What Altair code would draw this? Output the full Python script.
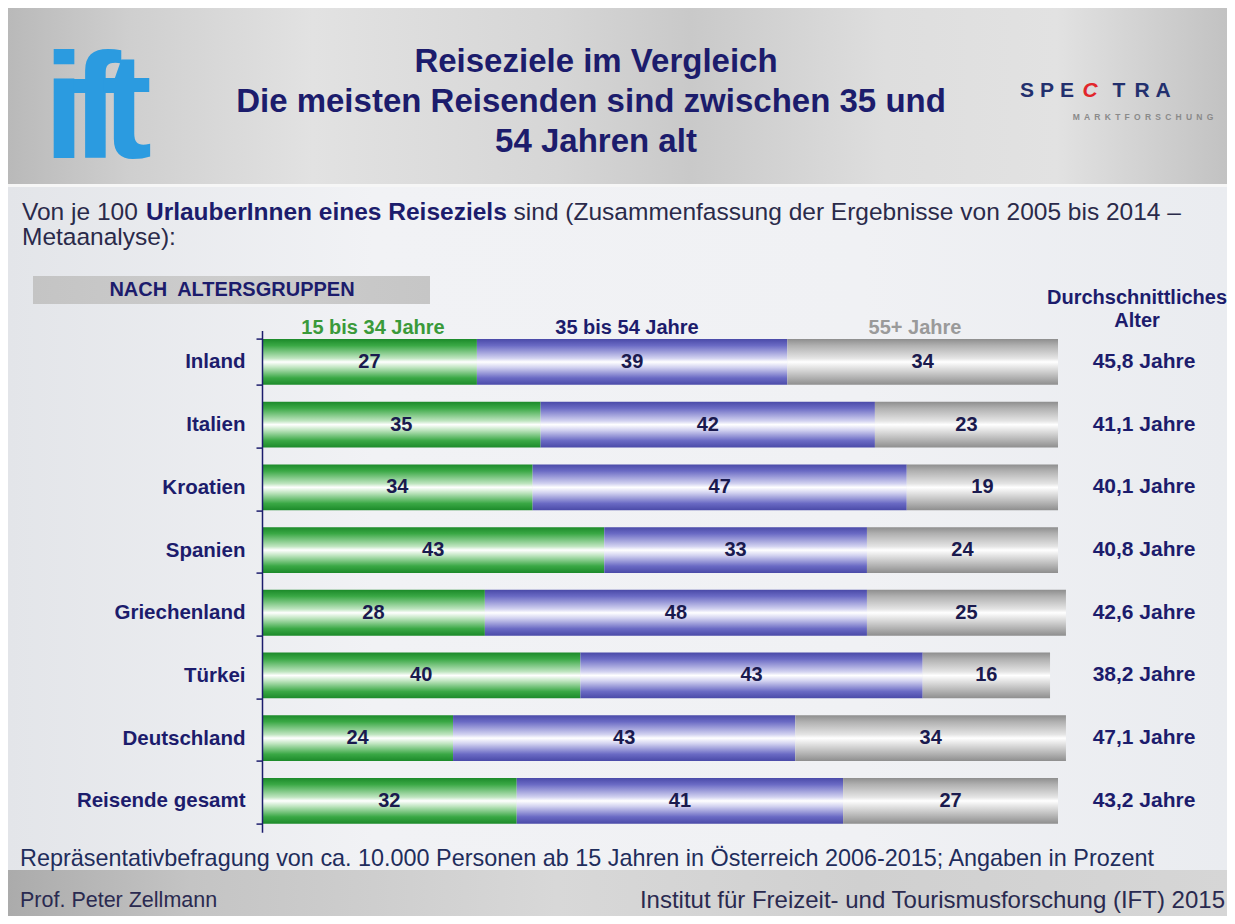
import altair as alt
import pandas as pd

# ---------------- data ----------------
countries = ["Inland", "Italien", "Kroatien", "Spanien", "Griechenland",
             "Türkei", "Deutschland", "Reisende gesamt"]
young = [27, 35, 34, 43, 28, 40, 24, 32]      # 15 bis 34 Jahre
middle = [39, 42, 47, 33, 48, 43, 43, 41]     # 35 bis 54 Jahre
senior = [34, 23, 19, 24, 25, 16, 34, 27]     # 55+ Jahre
avg_age = ["45,8 Jahre", "41,1 Jahre", "40,1 Jahre", "40,8 Jahre",
           "42,6 Jahre", "38,2 Jahre", "47,1 Jahre", "43,2 Jahre"]
groups = ["15 bis 34 Jahre", "35 bis 54 Jahre", "55+ Jahre"]

# ---------------- styling ----------------
FONT = "Liberation Sans, Arial, Helvetica, sans-serif"
NAVY = "#1c1c6c"
LABEL = "#1a1a4e"
TEXT = "#2a2a4a"

LEFT, TOP = 254, 322.6
W_PLOT, H_PLOT = 796, 501.6
CANVAS_W, CANVAS_H = 1219, 908


def X(px):
    return px - 8 - LEFT


def Y(py):
    return py - 8 - TOP


one = pd.DataFrame({"k": [0]})

rows = []
for i, c in enumerate(countries):
    start = 0
    for g, v in zip(groups, (young[i], middle[i], senior[i])):
        rows.append(dict(country=c, group=g, value=v, start=start,
                         end=start + v, mid=start + v / 2))
        start += v
bars = pd.DataFrame(rows)
avg_df = pd.DataFrame({"country": countries, "avg": avg_age})

xscale = alt.Scale(domain=[0, 100], range=[0, W_PLOT])
yscale = alt.Scale(domain=countries, paddingInner=0.27, paddingOuter=0.135)
yaxis = alt.Axis(title=None, domainColor=NAVY, domainWidth=1.5, tickColor=NAVY,
                 tickWidth=1.5, tickSize=6, tickBand="extent", grid=False,
                 labelFont=FONT, labelFontSize=20.5, labelFontWeight="bold",
                 labelColor=NAVY, labelPadding=11, zindex=2)
yenc = alt.Y("country:N", scale=yscale, axis=yaxis, sort=countries)


def vgrad(dark, mid, light):
    return alt.Gradient(
        gradient="linear", x1=0, x2=0, y1=0, y2=1,
        stops=[alt.GradientStop(color=dark, offset=0),
               alt.GradientStop(color=mid, offset=0.14),
               alt.GradientStop(color=light, offset=0.42),
               alt.GradientStop(color="#ffffff", offset=0.5),
               alt.GradientStop(color=light, offset=0.62),
               alt.GradientStop(color=mid, offset=0.85),
               alt.GradientStop(color=dark, offset=1)])


def hgrad(stops):
    return alt.Gradient(gradient="linear", x1=0, x2=1, y1=0, y2=0,
                        stops=[alt.GradientStop(color=c, offset=o) for o, c in stops])


def box(x1, x2, y1, y2, fill):
    return alt.Chart(one).mark_rect(color=fill).encode(
        x=alt.value(X(x1)), x2=alt.value(X(x2)),
        y=alt.value(Y(y1)), y2=alt.value(Y(y2)))


def txt(text, x, y, size, color, weight="normal", align="left", font=FONT,
        style="normal", baseline="middle"):
    return alt.Chart(one).mark_text(
        text=text, fontSize=size, color=color, fontWeight=weight, align=align,
        baseline=baseline, font=font, fontStyle=style).encode(
        x=alt.value(X(x)), y=alt.value(Y(y)))


layers = []
# backgrounds
layers.append(box(8, 1227, 8, 916, hgrad([(0, "#e3e5e9"), (0.3, "#f1f2f5"),
                                           (0.7, "#f0f1f4"), (1, "#eaecf0")])))
layers.append(box(8, 1227, 8, 184, hgrad([(0, "#b9b9b9"), (0.1, "#cfcfcf"),
                                           (0.25, "#e2e2e2"), (0.45, "#d6d6d6"),
                                           (0.56, "#c9c9c9"), (0.72, "#dedede"),
                                           (0.86, "#e2e2e2"), (1, "#c2c2c2")])))
layers.append(box(8, 1227, 184, 187, "#f6f6f6"))
layers.append(box(8, 1227, 870, 916, hgrad([(0, "#ababab"), (0.15, "#c4c4c4"),
                                             (0.45, "#d8d8d8"), (0.7, "#d0d0d0"),
                                             (1, "#d6d6d6")])))
layers.append(box(33, 430, 276, 304, hgrad([(0, "#c4c4c4"), (0.5, "#cdcdcd"),
                                             (1, "#c6c6c6")])))

# logos
for letter, xx in zip("ift", [64, 96, 127]):
    layers.append(txt(letter, xx, 158, 150, "#2b9be0", "bold", "center",
                      baseline="alphabetic"))
for letter, xx in zip("SPECTRA", [1027, 1047, 1067, 1090, 1119, 1142, 1163]):
    col = "#e2262b" if letter == "C" else "#23306e"
    layers.append(txt(letter, xx, 91, 21, col, "bold", "center", FONT,
                      "italic" if letter == "C" else "normal"))
layers.append(txt("M\u2002A\u2002R\u2002K\u2002T\u2002F\u2002O\u2002R\u2002S\u2002C\u2002H\u2002U\u2002N\u2002G",
                  1143, 117, 8.5, "#8a8a8a", "bold", "center"))

# title
layers.append(txt("Reiseziele im Vergleich", 596, 62, 33, NAVY, "bold", "center"))
layers.append(txt("Die meisten Reisenden sind zwischen 35 und", 591, 102, 33, NAVY,
                  "bold", "center"))
layers.append(txt("54 Jahren alt", 596, 142, 33, NAVY, "bold", "center"))

# subtitle (three runs: regular, bold, regular)
S = 24.5
x2 = 22 + 5.059 * S
x3 = x2 + (14.728 + 0.278) * S
layers.append(txt("Von je 100", 22, 213, S, TEXT))
layers.append(txt("UrlauberInnen eines Reiseziels", x2, 213, S, NAVY, "bold"))
layers.append(txt("sind (Zusammenfassung der Ergebnisse von 2005 bis 2014 \u2013", x3, 213,
                  S, TEXT))
layers.append(txt("Metaanalyse):", 22, 238, S, TEXT))

layers.append(txt("NACH\u2002ALTERSGRUPPEN", 232, 290, 20, NAVY, "bold", "center"))
layers.append(txt("15 bis 34 Jahre", 373, 328, 20, "#3a9a3a", "bold", "center"))
layers.append(txt("35 bis 54 Jahre", 627, 328, 20, NAVY, "bold", "center"))
layers.append(txt("55+ Jahre", 915, 328, 20, "#9a9a9a", "bold", "center"))
layers.append(txt("Durchschnittliches", 1137, 298, 20, NAVY, "bold", "center"))
layers.append(txt("Alter", 1137, 321, 20, NAVY, "bold", "center"))

# bars
fills = {
    groups[0]: vgrad("#1c8a2a", "#3aa845", "#bfe5c0"),
    groups[1]: vgrad("#4a4aa8", "#6a6ac4", "#d2d2f0"),
    groups[2]: vgrad("#8e8e8e", "#b0b0b0", "#e4e4e4"),
}
for g in groups:
    layers.append(
        alt.Chart(bars).transform_filter(alt.datum.group == g)
        .mark_bar(color=fills[g])
        .encode(x=alt.X("start:Q", scale=xscale, axis=None), x2="end:Q", y=yenc)
    )
layers.append(
    alt.Chart(bars).mark_text(font=FONT, fontSize=20, fontWeight="bold", color=LABEL)
    .encode(x=alt.X("mid:Q", scale=xscale, axis=None), y=yenc, text="value:Q")
)
layers.append(
    alt.Chart(avg_df).mark_text(font=FONT, fontSize=21, fontWeight="bold", color=NAVY,
                                align="center")
    .encode(x=alt.value(X(1144)), y=yenc, text="avg:N")
)

# footnote & footer
layers.append(txt("Repräsentativbefragung von ca. 10.000 Personen ab 15 Jahren in Österreich 2006-2015; Angaben in Prozent",
                  20, 859, 23.4, "#1f2d5c"))
layers.append(txt("Prof. Peter Zellmann", 20, 901, 21.5, "#2a2a50"))
layers.append(txt("Institut für Freizeit- und Tourismusforschung (IFT) 2015", 1225, 901, 24,
                  "#2a2a50", align="right"))

chart = alt.layer(*layers).properties(
    width=W_PLOT, height=H_PLOT,
    autosize=alt.AutoSizeParams(type="none"),
    padding={"left": LEFT, "top": TOP, "right": CANVAS_W - LEFT - W_PLOT,
             "bottom": CANVAS_H - TOP - H_PLOT},
).configure_view(stroke=None)

chart.save("out.html", embed_options={"renderer": "svg", "actions": False})
